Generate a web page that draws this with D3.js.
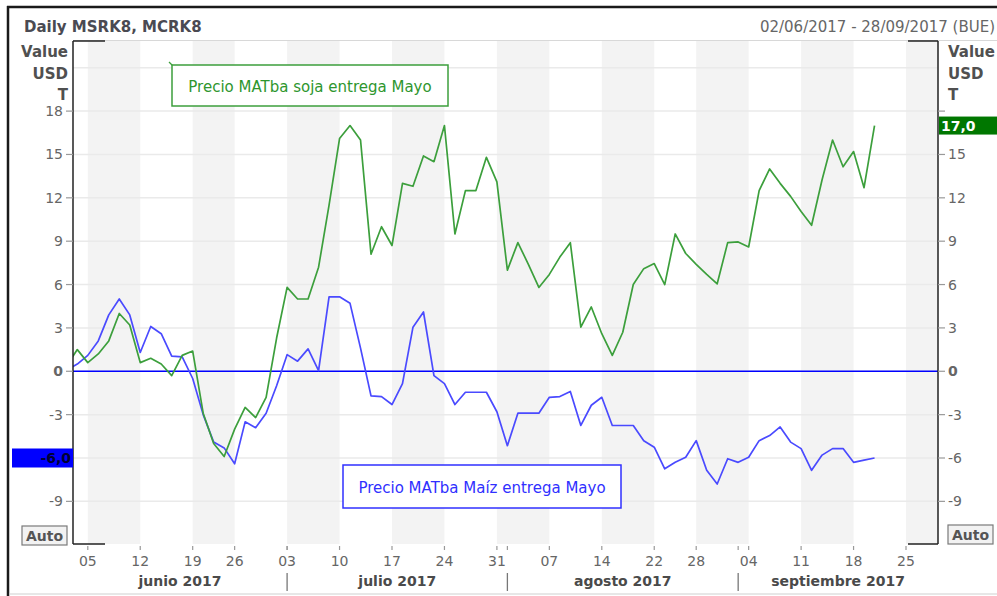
<!DOCTYPE html>
<html><head><meta charset="utf-8">
<script src="https://cdn.jsdelivr.net/npm/d3@7/dist/d3.min.js"></script>
<style>body{margin:0;background:#fff}svg{display:block;font-family:"DejaVu Sans",sans-serif}</style>
</head><body><svg id="c" width="997" height="596"></svg>
<script>
// ---- data ----
const dates = [
 "2017-06-01","2017-06-02",
 "2017-06-05","2017-06-06","2017-06-07","2017-06-08","2017-06-09",
 "2017-06-12","2017-06-13","2017-06-14","2017-06-15","2017-06-16",
 "2017-06-19","2017-06-21","2017-06-22","2017-06-23",
 "2017-06-26","2017-06-27","2017-06-28","2017-06-29","2017-06-30",
 "2017-07-03","2017-07-04","2017-07-05","2017-07-06","2017-07-07",
 "2017-07-10","2017-07-11","2017-07-12","2017-07-13","2017-07-14",
 "2017-07-17","2017-07-18","2017-07-19","2017-07-20","2017-07-21",
 "2017-07-24","2017-07-25","2017-07-26","2017-07-27","2017-07-28",
 "2017-07-31","2017-08-01","2017-08-02","2017-08-03","2017-08-04",
 "2017-08-07","2017-08-08","2017-08-09","2017-08-10","2017-08-11",
 "2017-08-14","2017-08-15","2017-08-16","2017-08-17","2017-08-18",
 "2017-08-22","2017-08-23","2017-08-24","2017-08-25",
 "2017-08-28","2017-08-29","2017-08-30","2017-08-31","2017-09-01",
 "2017-09-04","2017-09-05","2017-09-06","2017-09-07","2017-09-08",
 "2017-09-11","2017-09-12","2017-09-13","2017-09-14","2017-09-15",
 "2017-09-18","2017-09-19","2017-09-20","2017-09-21","2017-09-22",
 "2017-09-25","2017-09-26","2017-09-27","2017-09-28"
];
const soja = [
 0.4, 1.5, 0.6, 1.2, 2.1, 4.0, 3.2, 0.6, 0.9, 0.5, -0.3,
 1.1, 1.4, -2.9, -5.0, -5.9, -4.0, -2.5, -3.2, -1.8, 2.3,
 5.8, 5.0, 5.0, 7.2, 11.5, 16.1, 17.0, 16.0, 8.1, 10.0,
 8.7, 13.0, 12.8, 14.9, 14.5, 17.0, 9.5, 12.5, 12.5, 14.8,
 13.1, 7.0, 8.9, 7.4, 5.8, 6.7, 7.9, 8.9, 3.05, 4.45,
 2.6, 1.1, 2.7, 6.0, 7.1, 7.45, 6.0, 9.5, 8.15, 7.4,
 6.7, 6.05, 8.9, 8.95, 8.6, 12.5, 14.0, 13.0, 12.1, 11.05,
 10.1, 13.25, 16.0, 14.15, 15.2, 12.7, 17.0
];
const maiz = [
 0.1, 0.5, 1.1, 2.1, 3.9, 5.0, 3.9, 1.3, 3.1, 2.6, 1.05,
 1.0, -0.5, -3.0, -4.9, -5.3, -6.4, -3.5, -3.9, -2.9, -1.0,
 1.15, 0.7, 1.55, 0.05, 5.15, 5.15, 4.7, 1.6, -1.7, -1.75,
 -2.3, -0.85, 3.05, 4.1, -0.3, -0.85, -2.3, -1.45, -1.45, -1.45,
 -2.8, -5.15, -2.9, -2.9, -2.9, -1.8, -1.75, -1.4, -3.75, -2.35,
 -1.8, -3.75, -3.75, -3.75, -4.8, -5.25, -6.75, -6.3, -5.95, -4.8,
 -6.85, -7.8, -6.05, -6.3, -5.95, -4.8, -4.45, -3.85, -4.9, -5.35,
 -6.85, -5.8, -5.35, -5.35, -6.3, -6.15, -6.0
];
const yTickValues = [-9, -6, -3, 0, 3, 6, 9, 12, 15, 18];
const gridValues = [-9, -6, -3, 0, 3, 6, 9, 12, 15, 18, 21];
const monthLabels = ["junio 2017", "julio 2017", "agosto 2017", "septiembre 2017"];
const titleText = "Daily MSRK8, MCRK8";
const rangeText = "02/06/2017 - 28/09/2017 (BUE)";
const unitLines = ["Value", "USD", "T"];
const sojaName = "Precio MATba soja entrega Mayo";
const maizName = "Precio MATba Maíz entrega Mayo";

// ---- layout ----
const L = 73, R = 938, T = 41, B = 544;
const svg = d3.select("#c");
const parse = d3.timeParse("%Y-%m-%d");
const D = dates.map(parse);
const x = d3.scaleLinear().domain([0.59, dates.length - 0.95]).range([L, R]);
const y = d3.scaleLinear().domain([-11.95, 22.85]).range([B, T]);

const GREEN = "#3c9f3c", BLUE = "#4a4aff";

// frame
svg.append("line").attr("x1", 8).attr("x2", 8).attr("y1", 6).attr("y2", 596).attr("stroke", "#1a1a1a").attr("stroke-width", 2.5);
svg.append("line").attr("x1", 7).attr("x2", 997).attr("y1", 7).attr("y2", 7).attr("stroke", "#1a1a1a").attr("stroke-width", 2.5);
svg.append("line").attr("x1", 9).attr("x2", 997).attr("y1", 594).attr("y2", 594).attr("stroke", "#cfcfcf").attr("stroke-width", 1);
svg.append("line").attr("x1", L).attr("x2", 997).attr("y1", 40.5).attr("y2", 40.5).attr("stroke", "#d8d8d8").attr("stroke-width", 1);

// header
svg.append("text").attr("x", 24).attr("y", 32).attr("font-size", 15).attr("font-weight", "bold").attr("fill", "#4a4a52").text(titleText);
svg.append("text").attr("x", 995).attr("y", 32).attr("text-anchor", "end").attr("font-size", 15).attr("fill", "#666").text(rangeText);

// week starts and month starts
const weekStarts = [], monthStarts = [];
for (let k = 1; k < D.length; k++) {
  if (D[k].getDay() < D[k-1].getDay() || (D[k] - D[k-1]) > 3 * 864e5) weekStarts.push(k);
  if (D[k].getMonth() !== D[k-1].getMonth()) monthStarts.push(k);
}

// bands
const g = svg.append("g");
weekStarts.forEach((k, j) => {
  if (j % 2 !== 0) return;
  const x0 = x(k), x1 = j + 1 < weekStarts.length ? x(weekStarts[j+1]) : R;
  g.append("rect").attr("x", x0).attr("y", T).attr("width", x1 - x0).attr("height", B - T).attr("fill", "#f3f3f3");
});
// grid
gridValues.forEach(v => {
  g.append("line").attr("x1", L).attr("x2", R).attr("y1", y(v)).attr("y2", y(v)).attr("stroke", "#eaeaea").attr("stroke-width", 1.5);
});
// zero line
g.append("line").attr("x1", L).attr("x2", R).attr("y1", y(0)).attr("y2", y(0)).attr("stroke", "#0000ff").attr("stroke-width", 1.3);

// clip + series
svg.append("clipPath").attr("id", "pc").append("rect").attr("x", L).attr("y", T).attr("width", R - L).attr("height", B - T);
const line = d3.line().x((d, i) => x(i)).y(d => y(d));
svg.append("path").attr("clip-path", "url(#pc)").attr("d", line(maiz)).attr("fill", "none").attr("stroke", BLUE).attr("stroke-width", 1.7).attr("stroke-linejoin", "round");
svg.append("path").attr("clip-path", "url(#pc)").attr("d", line(soja)).attr("fill", "none").attr("stroke", GREEN).attr("stroke-width", 1.7).attr("stroke-linejoin", "round");

// axis frame lines
const ax = svg.append("g").attr("stroke", "#222").attr("stroke-width", 1.5);
ax.append("line").attr("x1", L).attr("x2", L).attr("y1", T).attr("y2", B);
ax.append("line").attr("x1", L).attr("x2", L + 32).attr("y1", T).attr("y2", T);
ax.append("line").attr("x1", L).attr("x2", L + 32).attr("y1", B).attr("y2", B);
ax.append("line").attr("x1", R).attr("x2", R).attr("y1", T).attr("y2", B);
ax.append("line").attr("x1", R - 30).attr("x2", R).attr("y1", T).attr("y2", T);
ax.append("line").attr("x1", R - 30).attr("x2", R).attr("y1", B).attr("y2", B);

// badges values
const lastS = soja[soja.length - 1], lastM = maiz[maiz.length - 1];
const fmt = v => d3.format(".1f")(v).replace(".", ",").replace("−", "-");

// y axes
yTickValues.forEach(v => {
  const yy = y(v);
  svg.append("line").attr("x1", L - 7).attr("x2", L).attr("y1", yy).attr("y2", yy).attr("stroke", "#999").attr("stroke-width", 1.2);
  svg.append("line").attr("x1", R).attr("x2", R + 7).attr("y1", yy).attr("y2", yy).attr("stroke", "#999").attr("stroke-width", 1.2);
  const bold = v === 0 ? "bold" : "normal";
  if (Math.abs(yy - y(lastM)) > 12)
    svg.append("text").attr("x", L - 10).attr("y", yy + 5).attr("text-anchor", "end").attr("font-size", 14).attr("font-weight", bold).attr("fill", "#666").text(v);
  if (Math.abs(yy - y(lastS)) > 15)
    svg.append("text").attr("x", R + 10).attr("y", yy + 5).attr("font-size", 14).attr("font-weight", bold).attr("fill", "#666").text(v);
});
unitLines.forEach((t, i) => {
  const by = [57, 79, 100][i];
  svg.append("text").attr("x", 68).attr("y", by).attr("text-anchor", "end").attr("font-size", 15).attr("font-weight", "bold").attr("fill", "#505050").text(t);
  svg.append("text").attr("x", 948).attr("y", by).attr("font-size", 15).attr("font-weight", "bold").attr("fill", "#505050").text(t);
});

// badges
svg.append("rect").attr("x", 12).attr("y", y(lastM) - 9.5).attr("width", L - 12).attr("height", 19).attr("fill", "#0000ff");
svg.append("text").attr("x", L - 2).attr("y", y(lastM) + 5).attr("text-anchor", "end").attr("font-size", 14).attr("font-weight", "bold").attr("fill", "#000033").text(fmt(lastM));
svg.append("rect").attr("x", R + 1).attr("y", y(lastS) - 9).attr("width", 997 - R).attr("height", 18).attr("fill", "#007700");
svg.append("text").attr("x", R + 3).attr("y", y(lastS) + 5).attr("font-size", 14).attr("font-weight", "bold").attr("fill", "#fff").text(fmt(lastS));

// Auto boxes
[[22, 526], [948, 525]].forEach(([bx, by]) => {
  svg.append("rect").attr("x", bx).attr("y", by).attr("width", 45).attr("height", 19).attr("fill", "#f2f2f2").attr("stroke", "#7a7a7a").attr("stroke-width", 1.2);
  svg.append("text").attr("x", bx + 22.5).attr("y", by + 15).attr("text-anchor", "middle").attr("font-size", 14).attr("font-weight", "bold").attr("fill", "#555").text("Auto");
});

// x axis: week ticks
const dayFmt = d3.timeFormat("%d");
weekStarts.forEach(k => {
  svg.append("line").attr("x1", x(k)).attr("x2", x(k)).attr("y1", 546).attr("y2", 550).attr("stroke", "#999").attr("stroke-width", 1.2);
  svg.append("text").attr("x", x(k)).attr("y", 566).attr("text-anchor", "middle").attr("font-size", 14).attr("fill", "#666").text(dayFmt(D[k]));
});
monthStarts.forEach(k => {
  svg.append("line").attr("x1", x(k)).attr("x2", x(k)).attr("y1", 546).attr("y2", 550).attr("stroke", "#999").attr("stroke-width", 1.2);
  svg.append("line").attr("x1", x(k)).attr("x2", x(k)).attr("y1", 573).attr("y2", 591).attr("stroke", "#777").attr("stroke-width", 1.3);
});
const bounds = [L, ...monthStarts.map(k => x(k)), R];
monthLabels.forEach((t, i) => {
  svg.append("text").attr("x", (bounds[i] + bounds[i+1]) / 2).attr("y", 586).attr("text-anchor", "middle").attr("font-size", 14).attr("font-weight", "bold").attr("fill", "#4a4a4a").text(t);
});

// legend boxes
svg.append("line").attr("x1", 169).attr("y1", 62).attr("x2", 173).attr("y2", 66).attr("stroke", GREEN).attr("stroke-width", 1.2);
svg.append("rect").attr("x", 172).attr("y", 65).attr("width", 276).attr("height", 41).attr("fill", "#fff").attr("stroke", GREEN).attr("stroke-width", 1.5);
svg.append("text").attr("x", 310).attr("y", 92).attr("text-anchor", "middle").attr("font-size", 15).attr("fill", "#2e962e").text(sojaName);
svg.append("rect").attr("x", 343).attr("y", 465).attr("width", 278).attr("height", 43).attr("fill", "#fff").attr("stroke", "#3030ff").attr("stroke-width", 1.5);
svg.append("text").attr("x", 482).attr("y", 493).attr("text-anchor", "middle").attr("font-size", 15).attr("fill", "#3030ff").text(maizName);
</script></body></html>
